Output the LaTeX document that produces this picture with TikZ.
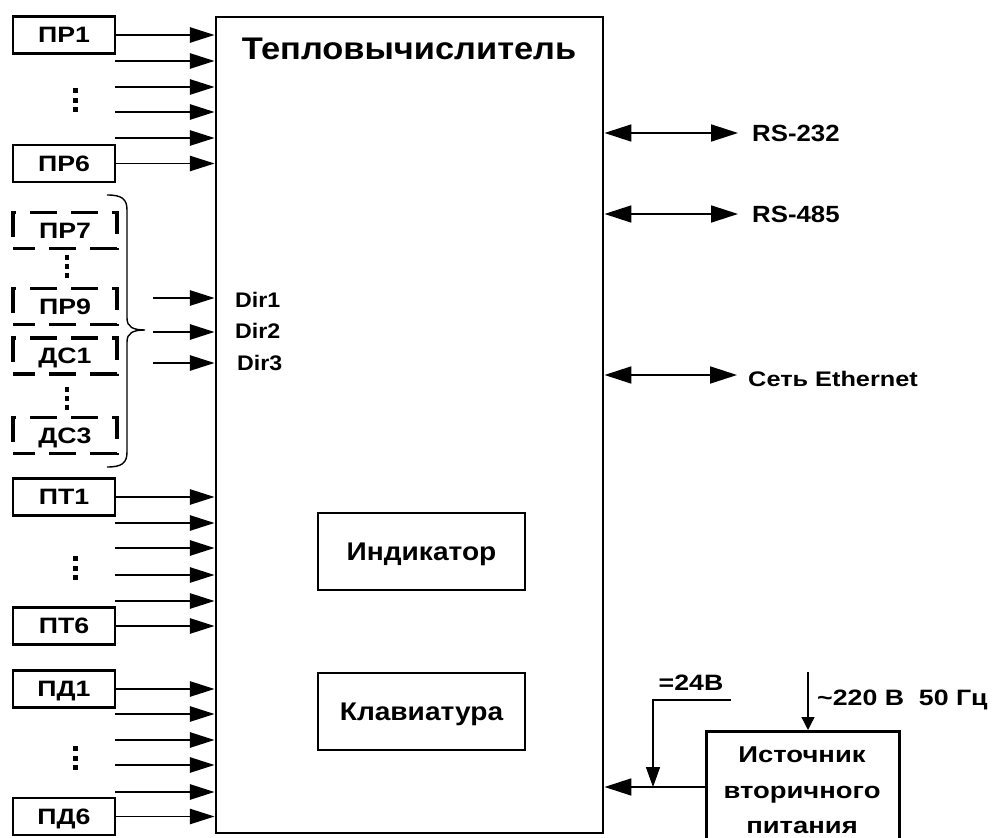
\documentclass[tikz,border=0pt]{standalone}
\usepackage{fontspec}
\setmainfont{Liberation Sans}
\newfontfamily\fa[FakeStretch=1.1]{Liberation Sans}
\newfontfamily\fb[FakeStretch=1.2]{Liberation Sans}
\usetikzlibrary{arrows.meta,calc}
\begin{document}
\begin{tikzpicture}[x=0.3mm,y=-0.3mm,
  sz/.style 2 args={minimum width=#1*0.3mm, minimum height=#2*0.3mm},
  inbox/.style={draw, line width=2.5pt, sz={102}{37}, inner sep=0pt, text height=13.5pt, text depth=0pt, font=\fb\bfseries\fontsize{19}{22}\selectfont},
  dbox/.style={inbox, line width=2.8pt, dash pattern=on 23pt off 12pt, dash phase=4pt, sz={104}{36}},
  inarr/.style={line width=1.5pt, -{Triangle[length=21pt,width=13pt]}},
  dblarr/.style={line width=1.5pt, {Triangle[length=23pt,width=14.5pt]}-{Triangle[length=23pt,width=14.5pt]}},
  parr/.style={line width=1.5pt, -{Triangle[length=23pt,width=14.5pt]}},
  thinarr/.style={line width=0.9pt, -{Triangle[length=17pt,width=12pt]}},
  acarr/.style={line width=1.1pt, -{Triangle[length=11pt,width=11pt]}},
  lab/.style={inner sep=0pt, text depth=0pt, font=\fa\bfseries\fontsize{18}{20}\selectfont},
  rslab/.style={inner sep=0pt, text depth=0pt, font=\fa\bfseries\fontsize{20}{22}\selectfont},
  blab/.style={inner sep=0pt, text depth=0pt, font=\fb\bfseries\fontsize{19}{22}\selectfont},
  dotsq/.style={fill=black}
]
\useasboundingbox (0,0) rectangle (1000,838);
\clip (0,0) rectangle (1000,838);

% main block
\node[draw, line width=2.5pt, sz={387}{816}, inner sep=0pt] (main) at (409.5,425) {};
\node[inner sep=0pt, text depth=0pt, font=\fa\bfseries\fontsize{26.7}{30}\selectfont] (title) at (409,48.5) {Тепловычислитель};
\node[draw, line width=2pt, sz={207}{77}, inner sep=0pt, text depth=0pt, font=\fa\bfseries\fontsize{21.8}{24}\selectfont] (ind) at (421.5,551.5) {Индикатор};
\node[draw, line width=2pt, sz={207}{77}, inner sep=0pt, text depth=0pt, font=\fa\bfseries\fontsize{21.8}{24}\selectfont] (kbd) at (421.5,711.5) {Клавиатура};

% PR group
\node[inbox] (pr1) at (64,35) {ПР1};
\node[inbox] (pr6) at (64,163.5) {ПР6};
\draw[inarr] (pr1.east) -- (pr1.east -| main.west);
\draw[inarr] (pr6.east) -- (pr6.east -| main.west);
\foreach \y [count=\i] in {61,87,112,138} {\coordinate (pra\i) at (115,\y); \draw[inarr] (pra\i) -- (pra\i -| main.west);}

% PT group
\node[inbox] (pt1) at (64,497) {ПТ1};
\node[inbox] (pt6) at (64,626) {ПТ6};
\draw[inarr] (pt1.east) -- (pt1.east -| main.west);
\draw[inarr] (pt6.east) -- (pt6.east -| main.west);
\foreach \y [count=\i] in {523,548,575,601} {\coordinate (pta\i) at (115,\y); \draw[inarr] (pta\i) -- (pta\i -| main.west);}

% PD group
\node[inbox] (pd1) at (64,689) {ПД1};
\node[inbox] (pd6) at (64,816.5) {ПД6};
\draw[inarr] (pd1.east) -- (pd1.east -| main.west);
\draw[inarr] (pd6.east) -- (pd6.east -| main.west);
\foreach \y [count=\i] in {714,740,765,792} {\coordinate (pda\i) at (115,\y); \draw[inarr] (pda\i) -- (pda\i -| main.west);}

% vertical dots
\foreach \y in {88,98,107,556,566,575,746,756,765} {\fill[dotsq] (73,\y) rectangle (78,\y+5);}

% dashed optional boxes
\node[dbox] (pr7) at (65,230.5) {ПР7};
\node[dbox] (pr9) at (65,306.5) {ПР9};
\node[dbox] (dc1) at (65,356) {ДС1};
\node[dbox] (dc3) at (65,435.5) {ДС3};
\foreach \y in {255,264,273,387,396,405} {\fill[dotsq] (65,\y) rectangle (69,\y+5);}

% brace
\draw[line width=1.2pt] (107,195) .. controls (122,195) and (127,199) .. (127,210) -- (127,318)
  .. controls (127,327) and (133,330) .. (145,330)
  .. controls (133,330) and (127,333) .. (127,342) -- (127,452)
  .. controls (127,463) and (122,467) .. (107,467);

% Dir inputs
\foreach \y [count=\i] in {298,332,363} {\coordinate (dir\i) at (153,\y); \draw[inarr] (dir\i) -- (dir\i -| main.west);}
\node[lab, anchor=west] (d1) at (235,299.5) {Dir1};
\node[lab, anchor=west] (d2) at (235,331) {Dir2};
\node[lab, anchor=west] (d3) at (237,362.5) {Dir3};

% interfaces
\coordinate (r1) at (738,133);
\coordinate (r2) at (738,214);
\coordinate (r3) at (737,375);
\draw[dblarr] (r1 -| main.east) -- (r1);
\draw[dblarr] (r2 -| main.east) -- (r2);
\draw[dblarr] (r3 -| main.east) -- (r3);
\node[rslab, anchor=west] (rs232) at (752,133.5) {RS-232};
\node[rslab, anchor=west] (rs485) at (752,214.5) {RS-485};
\node[blab, anchor=west, font=\fb\bfseries\fontsize{18}{20}\selectfont] (eth) at (748,379) {Сеть Ethernet};

% power supply
\node[draw, line width=2.5pt, sz={193}{140}, inner sep=0pt, anchor=north west] (psu) at (705,730) {};
\node[anchor=north, inner sep=0pt, align=center, font=\fb\bfseries\fontsize{19.5}{30.3}\selectfont] (psut) at (802,747) {Источник\\вторичного\\питания};
\coordinate (pw) at (psu.west |- 0,787);
\draw[parr] (pw) -- (pw -| main.east);
\coordinate (v1) at (731,700);
\coordinate (v2) at (653,700);
\draw[thinarr] (v1) -- (v2) -- (v2 |- pw);
\node[blab, anchor=base] (u24) at (691,690) {=24В};
\coordinate (ac) at (808,672);
\draw[acarr] (ac) -- (ac |- psu.north);
\node[blab, anchor=base west] (u220) at (817,705) {\textasciitilde220 В\ \ 50 Гц};
\end{tikzpicture}
\end{document}
